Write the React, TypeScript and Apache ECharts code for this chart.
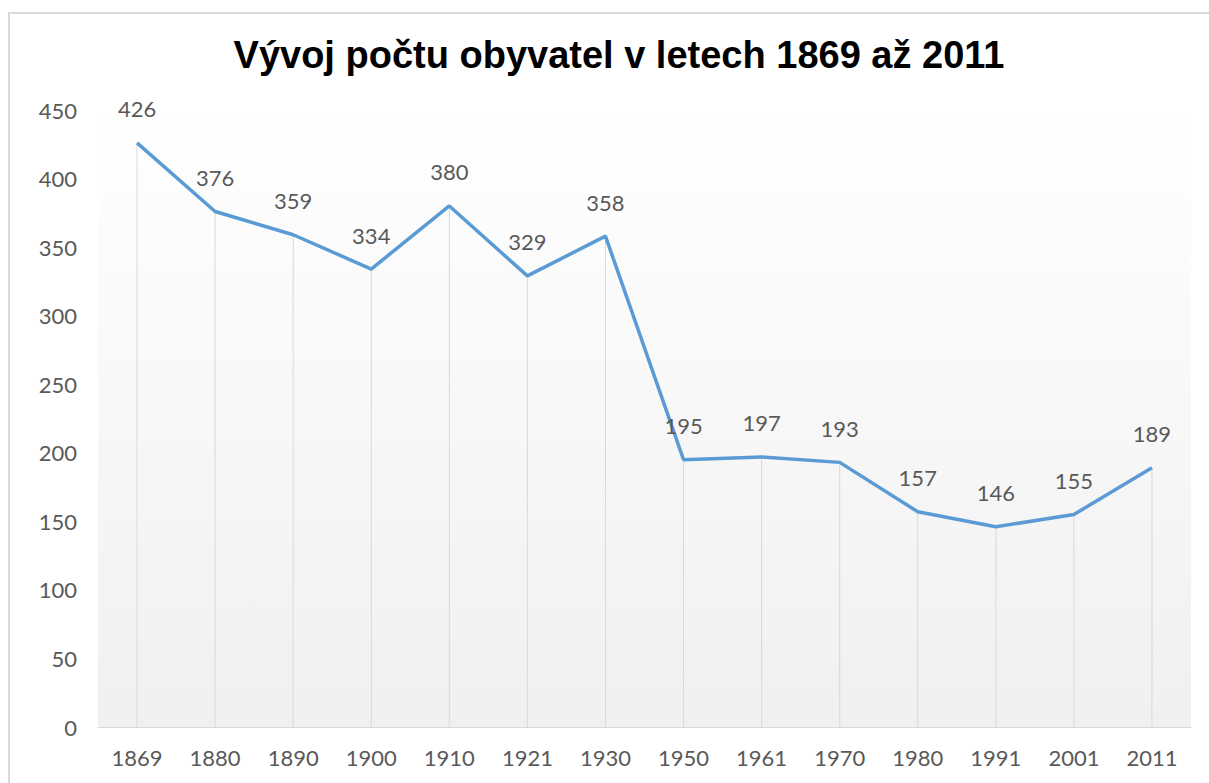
import React, { useEffect, useRef } from "react";
import * as echarts from "echarts";

const TITLE = "Vývoj počtu obyvatel v letech 1869 až 2011";
const years = ["1869", "1880", "1890", "1900", "1910", "1921", "1930", "1950", "1961", "1970", "1980", "1991", "2001", "2011"];
const population = [426, 376, 359, 334, 380, 329, 358, 195, 197, 193, 157, 146, 155, 189];
const yTicks = { min: 0, max: 450, interval: 50 };

export default function App() {
  const ref = useRef<HTMLDivElement>(null);
  useEffect(() => {
    if (!ref.current) return;
    const chart = echarts.init(ref.current, undefined, { renderer: "svg" });
    const font = "Lato, 'Open Sans', sans-serif";
    chart.setOption({
      animation: false,
      backgroundColor: "#ffffff",
      title: {
        text: TITLE,
        left: 614,
        top: 31,
        textAlign: "center",
        textStyle: { fontFamily: "'Liberation Sans', Arial, sans-serif", fontWeight: "bold", fontSize: 38, color: "#000000" },
      },
      graphic: [
        {
          type: "rect",
          shape: { x: 9, y: 13, width: 1240, height: 820 },
          style: { fill: "none", stroke: "#d9d9d9", lineWidth: 2 },
          silent: true,
        },
      ],
      grid: {
        left: 98,
        right: 18,
        top: 110,
        bottom: 56,
        show: true,
        borderWidth: 0,
        backgroundColor: new echarts.graphic.LinearGradient(0, 0, 0, 1, [
          { offset: 0, color: "#ffffff" },
          { offset: 1, color: "#f0f0f0" },
        ]),
      },
      xAxis: {
        type: "category",
        data: years,
        boundaryGap: true,
        axisLine: { show: true, lineStyle: { color: "#d9d9d9", width: 1 } },
        axisTick: { show: false },
        splitLine: { show: false },
        axisLabel: { color: "#595959", fontFamily: font, fontSize: 22, margin: 19 },
      },
      yAxis: {
        type: "value",
        min: yTicks.min,
        max: yTicks.max,
        interval: yTicks.interval,
        axisLine: { show: false },
        axisTick: { show: false },
        splitLine: { show: false },
        axisLabel: { color: "#595959", fontFamily: font, fontSize: 22, margin: 21 },
      },
      series: [
        {
          type: "bar",
          data: population,
          barWidth: 1,
          itemStyle: { color: "#d9d9d9" },
          silent: true,
          z: 1,
        },
        {
          type: "line",
          data: population,
          showSymbol: true,
          symbol: "circle",
          symbolSize: 0,
          itemStyle: { color: "#5b9bd5" },
          lineStyle: { color: "#5b9bd5", width: 3.5 },
          z: 3,
          label: {
            show: true,
            position: "top",
            distance: 23,
            color: "#595959",
            fontFamily: font,
            fontSize: 22,
          },
        },
      ],
    });
    return () => chart.dispose();
  }, []);
  return <div ref={ref} style={{ position: "fixed", left: 0, top: 0, width: 1209, height: 783 }} />;
}
